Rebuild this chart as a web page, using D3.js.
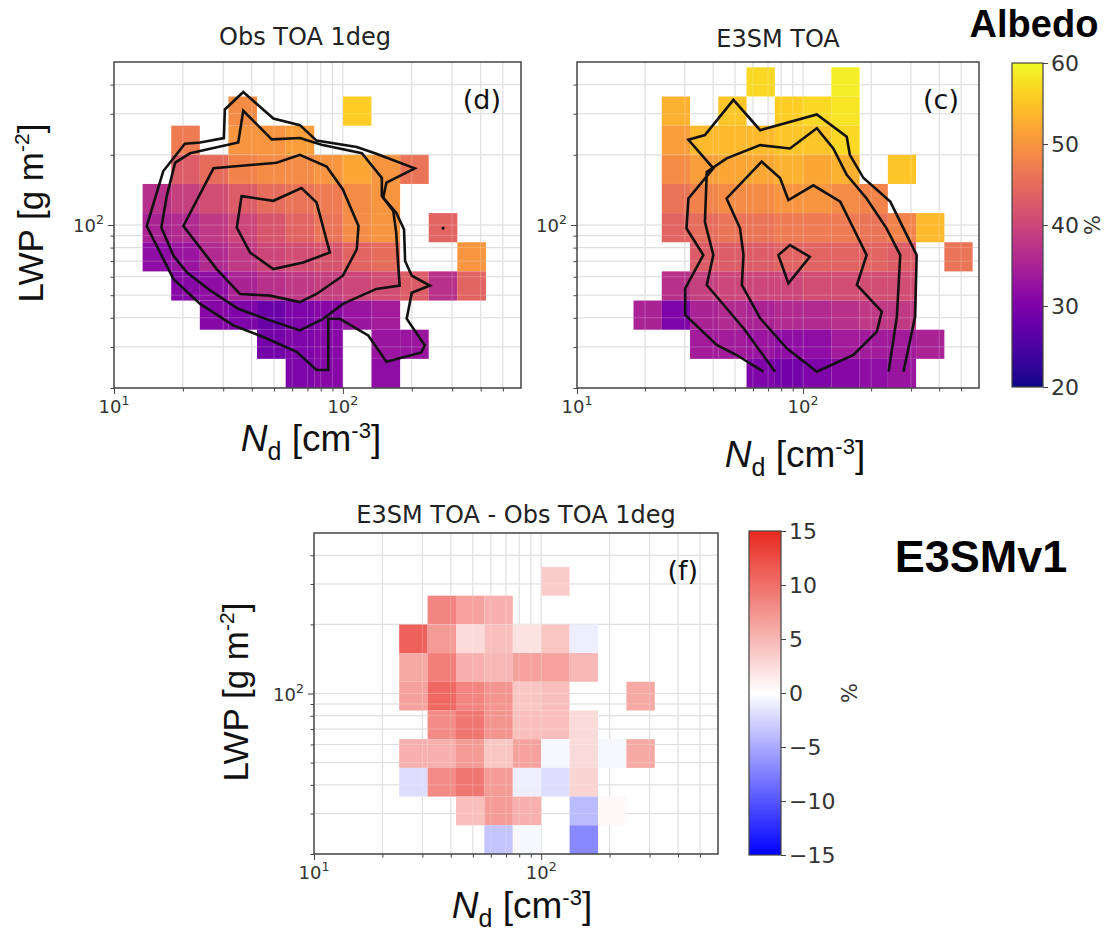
<!DOCTYPE html>
<html><head><meta charset="utf-8">
<script src="https://cdn.jsdelivr.net/npm/d3@7/dist/d3.min.js"></script>
<style>html,body{margin:0;padding:0;background:#fff;} svg{display:block;}</style>
</head><body>
<svg id="chart" width="1107" height="941"></svg>
<script>
const _ = null;
// log bins, 8 per decade
const ndEdges = d3.range(16).map(k => Math.pow(10, 1 + k / 8));
const lwpEdges = d3.range(13).map(k => 20 * Math.pow(10, k / 8));

const ndMajorTicks = [10, 100];
const ndMinorTicks = [20, 30, 40, 50, 60, 70, 80, 90, 200, 300, 400, 500];
const lwpMajorTicks = [100];
const lwpMinorTicks = [20, 30, 40, 50, 60, 70, 80, 90, 200, 300, 400];
const albedoTicks = [20, 30, 40, 50, 60];
const diffTicks = [-15, -10, -5, 0, 5, 10, 15];

// rows listed from top (highest LWP bin) to bottom; columns = Nd bins
const obsAlbedo = [
  [_,_,_,_,_,_,_,_,_,_,_,_,_,_,_],
  [_,_,_,_,_,_,_,_,_,_,_,_,_,_,_],
  [_,_,_,_,49,_,_,_,56,_,_,_,_,_,_],
  [_,_,47,_,50,50,51,_,_,_,_,_,_,_,_],
  [_,_,43,45,48,49,49,50,52,50,46,_,_,_,_],
  [_,37,39,41,43,45,46,47,49,50,_,_,_,_,_],
  [_,35,36,38,40,42,44,46,49,50,_,44,_,_,_],
  [_,32,33,36,38,40,41,42,44,45,_,_,50,_,_],
  [_,_,31,32,35,37,38,39,40,41,43,37,44,_,_],
  [_,_,_,31,30,28,30,31,33,34,_,_,_,_,_],
  [_,_,_,_,_,29,30,31,_,33,33,_,_,_,_],
  [_,_,_,_,_,_,30,31,_,32,_,_,_,_,_]
];
const e3smAlbedo = [
  [_,_,_,_,_,_,_,_,_,_,_,_,_,_,_],
  [_,_,_,_,_,_,57,_,_,59,_,_,_,_,_],
  [_,_,_,53,_,55,_,56,57,58,_,_,_,_,_],
  [_,_,_,51,54,54,54,55,55,57,_,_,_,_,_],
  [_,_,_,49,51,52,52,53,52,53,_,55,_,_,_],
  [_,_,_,46,48,49,49,50,50,49,48,_,_,_,_],
  [_,_,_,44,45,46,46,47,47,47,46,48,54,_,_],
  [_,_,_,_,43,43,43,44,44,44,44,43,_,46,_],
  [_,_,_,37,39,40,40,40,41,41,41,41,_,_,_],
  [_,_,35,30,35,36,35,36,36,37,38,38,_,_,_],
  [_,_,_,_,34,34,33,32,32,34,34,34,35,_,_],
  [_,_,_,_,_,_,30,29,30,31,32,33,_,_,_]
];
const diffAlbedo = [
  [_,_,_,_,_,_,_,_,_,_,_,_,_,_,_],
  [_,_,_,_,_,_,_,_,_,_,_,_,_,_,_],
  [_,_,_,_,_,_,_,_,3.5,_,_,_,_,_,_],
  [_,_,_,_,8.5,6.5,5.5,_,_,_,_,_,_,_,_],
  [_,_,_,11,7,2.5,4.5,2,4,-1,_,_,_,_,_],
  [_,_,_,6,9,5.5,5,6.5,6.5,5,_,_,_,_,_],
  [_,_,_,6.5,10.5,8.5,7.5,4,4.5,_,_,6,_,_,_],
  [_,_,_,_,8,9.5,7.5,4.5,4.5,2.5,_,_,_,_,_],
  [_,_,_,5.5,5.5,7,4,6.5,-0.5,2.5,-0.5,6,_,_,_],
  [_,_,_,-2,8,9.5,7,-1,-2,3,_,_,_,_,_],
  [_,_,_,_,_,4.5,7,5.5,_,-4,0.5,_,_,_,_],
  [_,_,_,_,_,_,-3.5,-0.5,_,-7,_,_,_,_,_]
];

// contour lines, points as [Nd, LWP]
const obsContour1 = [[36.7,372],[49.7,286],[64.9,268],[76.7,230],[115,216],[140,202],[206,175],[155,152],[150,131],[171,113],[185,95.7],[187,70.1],[200,60.6],[240,55],[200,51.2],[190,39.6],[228,30.5],[220,28.4],[155,25.9],[129,33.6],[97,39.6],[86.3,39.6],[86.3,23.9],[76.7,23.9],[62.8,28.6],[44.9,33.1],[33.2,37.1],[23.8,45.9],[18.2,58.6],[13.9,99],[16.4,170],[20.4,223],[23.8,226],[30.2,236],[30.5,313]];
const obsContour2 = [[36.7,309],[48.9,233],[64.9,236],[80.7,221],[121,203],[148,159],[148,133],[166,115],[171,92.7],[174,70.1],[177,55],[140,53.2],[100,45.9],[82,39.6],[64.9,35.3],[48,39],[34.9,43.7],[26.3,52.4],[20.8,62.7],[18.2,73.8],[16.1,97.5],[17,133],[18.5,185],[21.5,203],[34.9,226]];
const obsContour3 = [[20.1,99],[27.2,175],[51.3,185],[64.9,200],[84.9,178],[100,142],[117,99],[115,78.7],[100,60.6],[76.7,50.6],[64.9,46.7],[48,49.8],[35.5,50.6],[28.1,64.7]];
const obsContour4 = [[36.1,133],[49.7,127],[65.9,144],[76.7,125],[87.7,76.2],[67,69],[49.7,64.7],[39.3,76.2],[34.4,97.5]];
const obsDot = [[274,97]];

const e3smContour1 = [[66.7,23.5],[50.8,27.7],[41.5,30.6],[30.1,41.1],[30.1,53.5],[36.2,74.3],[30.5,96.8],[31.1,130],[40.1,175],[31.1,232],[36.8,243],[49.2,344],[64.6,255],[115,298],[156,239],[161,200],[185,159],[243,126],[318,74.3],[313,40.5],[278,23.5]];
const e3smContour2 = [[75.2,23.5],[54.5,36.1],[37.5,55.3],[40.1,74.3],[36.8,103],[37.5,169],[45.9,193],[64.6,220],[87.5,213],[115,260],[136,213],[156,164],[191,130],[234,96.8],[269,74.3],[260,40.5],[239,23.5]];
const e3smContour3 = [[65.6,187],[45.9,130],[52.6,96.8],[54.5,74.3],[53.6,55.3],[64.6,39.8],[84.7,29.6],[115,23.5],[167,27.7],[212,34.9],[223,42.5],[173,55.3],[191,74.3],[167,96.8],[146,126],[111,148],[86.1,128],[79.1,159]];
const e3smContour4 = [[77.8,74.3],[87.5,82],[107,73.1],[86.1,56.2]];

const svg = d3.select("#chart");
const defs = svg.append("defs");
const FONT = "DejaVu Sans, sans-serif";
const LFONT = "Liberation Sans, Arial, sans-serif";

const albedoColor = d3.scaleSequential(d3.interpolatePlasma).domain([20, 60]);
const bwr = v => v >= 0 ? d3.interpolateRgb("#ffffff", "#e8281e")(Math.min(v, 15) / 15)
                        : d3.interpolateRgb("#ffffff", "#0000ff")(Math.min(-v, 15) / 15);

function powerLabel(g, xPos, yPos, exp, anchor, size) {
  const t = g.append("text").attr("x", xPos).attr("y", yPos)
    .attr("text-anchor", anchor).attr("font-family", FONT).attr("font-size", size).attr("fill", "#333");
  t.append("tspan").text("10");
  t.append("tspan").attr("dy", -size * 0.42).attr("font-size", size * 0.7).text(exp);
}

function drawPanel(o) {
  const x = d3.scaleLog().domain([10, o.xmax]).range([o.left, o.right]);
  const y = d3.scaleLog().domain([20, 500]).range([o.bottom, o.top]);
  const g = svg.append("g");
  const clipId = "clip-" + o.id;
  defs.append("clipPath").attr("id", clipId).append("rect")
    .attr("x", o.left).attr("y", o.top).attr("width", o.right - o.left).attr("height", o.bottom - o.top);
  const inner = g.append("g").attr("clip-path", `url(#${clipId})`);
  const gx = ndMinorTicks.concat([100]).filter(d => d < o.xmax);
  const gy = lwpMinorTicks.concat([100]);
  function grid(layer, color, op) {
    layer.selectAll(null).data(gx).join("line")
      .attr("x1", d => x(d)).attr("x2", d => x(d)).attr("y1", o.top).attr("y2", o.bottom)
      .attr("stroke", color).attr("stroke-opacity", op).attr("stroke-width", 1);
    layer.selectAll(null).data(gy).join("line")
      .attr("y1", d => y(d)).attr("y2", d => y(d)).attr("x1", o.left).attr("x2", o.right)
      .attr("stroke", color).attr("stroke-opacity", op).attr("stroke-width", 1);
  }
  grid(inner.append("g"), "#d4d4d4", 1);
  const cells = [];
  o.rows.forEach((row, r) => {
    const j = o.rows.length - 1 - r;
    row.forEach((v, i) => { if (v !== null) cells.push({ i, j, v }); });
  });
  inner.append("g").selectAll("rect").data(cells).join("rect")
    .attr("x", d => x(ndEdges[d.i])).attr("width", d => x(ndEdges[d.i + 1]) - x(ndEdges[d.i]))
    .attr("y", d => y(lwpEdges[d.j + 1])).attr("height", d => y(lwpEdges[d.j]) - y(lwpEdges[d.j + 1]))
    .attr("fill", d => o.color(d.v));
  grid(inner.append("g"), "#ffffff", 0.22);
  (o.contours || []).forEach(c => {
    const line = d3.line().x(d => x(d[0])).y(d => y(d[1]))
      .curve(c.closed ? d3.curveLinearClosed : d3.curveLinear);
    inner.append("path").attr("d", line(c.pts)).attr("fill", "none")
      .attr("stroke", "#111").attr("stroke-width", 2.6).attr("stroke-linejoin", "miter");
  });
  (o.dots || []).forEach(p => {
    inner.append("circle").attr("cx", x(p[0])).attr("cy", y(p[1])).attr("r", 1.6).attr("fill", "#111");
  });
  // frame
  g.append("rect").attr("x", o.left).attr("y", o.top).attr("width", o.right - o.left)
    .attr("height", o.bottom - o.top).attr("fill", "none").attr("stroke", "#444").attr("stroke-width", 1.5);
  // ticks
  const tickStyle = s => s.call(a => a.select(".domain").remove())
    .call(a => a.selectAll("line").attr("stroke", "#444").attr("stroke-width", 1));
  g.append("g").attr("transform", `translate(0,${o.bottom})`)
    .call(d3.axisBottom(x).tickValues(ndMajorTicks).tickSize(6).tickFormat("")).call(tickStyle);
  g.append("g").attr("transform", `translate(0,${o.bottom})`)
    .call(d3.axisBottom(x).tickValues(ndMinorTicks.filter(d => d < o.xmax)).tickSize(3.5).tickFormat("")).call(tickStyle);
  g.append("g").attr("transform", `translate(${o.left},0)`)
    .call(d3.axisLeft(y).tickValues(lwpMajorTicks).tickSize(6).tickFormat("")).call(tickStyle);
  g.append("g").attr("transform", `translate(${o.left},0)`)
    .call(d3.axisLeft(y).tickValues(lwpMinorTicks).tickSize(3.5).tickFormat("")).call(tickStyle);
  ndMajorTicks.forEach(t => powerLabel(g, x(t), o.bottom + 25, String(Math.round(Math.log10(t))), "middle", 18));
  lwpMajorTicks.forEach(t => powerLabel(g, o.left - 10, y(t) + 7, String(Math.round(Math.log10(t))), "end", 18));
  // title
  g.append("text").attr("x", o.titleX).attr("y", o.titleY).attr("text-anchor", "middle")
    .attr("font-family", FONT).attr("font-size", 24).attr("fill", "#222").text(o.title);
  g.append("text").attr("x", o.right - 20).attr("y", o.top + 47).attr("text-anchor", "end")
    .attr("font-family", FONT).attr("font-size", 27).attr("fill", "#111").text(o.tag);
  // x label
  const xl = g.append("text").attr("x", o.xlabX).attr("y", o.xlabY).attr("text-anchor", "middle")
    .attr("font-family", LFONT).attr("font-size", 37).attr("fill", "#111");
  xl.append("tspan").attr("font-style", "italic").text("N");
  xl.append("tspan").attr("dy", 9).attr("font-size", 25).text("d");
  xl.append("tspan").attr("dy", -9).text(" [cm");
  xl.append("tspan").attr("dy", -13).attr("font-size", 22).text("-3");
  xl.append("tspan").attr("dy", 13).text("]");
  if (o.ylab) {
    const yl = g.append("text").attr("transform", `translate(${o.ylabX},${o.ylabY}) rotate(-90)`)
      .attr("text-anchor", "middle").attr("font-family", LFONT).attr("font-size", 35).attr("fill", "#111");
    yl.append("tspan").text("LWP [g m");
    yl.append("tspan").attr("dy", -14).attr("font-size", 21).text("-2");
    yl.append("tspan").attr("dy", 14).text("]");
  }
}

drawPanel({ id: "d", left: 114, right: 521, top: 62, bottom: 388, xmax: 600, rows: obsAlbedo, color: albedoColor,
  contours: [{closed: true, pts: obsContour1}, {closed: true, pts: obsContour2}, {closed: true, pts: obsContour3}, {closed: true, pts: obsContour4}],
  dots: obsDot, title: "Obs TOA 1deg", titleX: 305, titleY: 45, tag: "(d)",
  xlabX: 311, xlabY: 451, ylab: true, ylabX: 43, ylabY: 213 });

drawPanel({ id: "c", left: 577, right: 979, top: 62, bottom: 388, xmax: 600, rows: e3smAlbedo, color: albedoColor,
  contours: [{closed: false, pts: e3smContour1}, {closed: false, pts: e3smContour2}, {closed: true, pts: e3smContour3}, {closed: true, pts: e3smContour4}],
  title: "E3SM TOA", titleX: 778, titleY: 47, tag: "(c)",
  xlabX: 795, xlabY: 467, ylab: false });

drawPanel({ id: "f", left: 314, right: 718, top: 533, bottom: 854, xmax: 600, rows: diffAlbedo, color: bwr,
  title: "E3SM TOA - Obs TOA 1deg", titleX: 516, titleY: 523, tag: "(f)",
  xlabX: 522, xlabY: 918, ylab: true, ylabX: 248, ylabY: 692 });

// colorbars
function colorbar(o) {
  const gid = "grad-" + o.id;
  const grad = defs.append("linearGradient").attr("id", gid).attr("x1", 0).attr("y1", 1).attr("x2", 0).attr("y2", 0);
  d3.range(0, 1.0001, 0.02).forEach(t => {
    const v = o.domain[0] + t * (o.domain[1] - o.domain[0]);
    grad.append("stop").attr("offset", t).attr("stop-color", o.color(v));
  });
  const s = d3.scaleLinear().domain(o.domain).range([o.bottom, o.top]);
  const g = svg.append("g");
  g.append("rect").attr("x", o.left).attr("y", o.top).attr("width", o.width).attr("height", o.bottom - o.top)
    .attr("fill", `url(#${gid})`).attr("stroke", "#444").attr("stroke-width", 1.2);
  const ax = g.append("g").attr("transform", `translate(${o.left + o.width},0)`)
    .call(d3.axisRight(s).tickValues(o.ticks).tickSize(5).tickPadding(3).tickFormat(d => d < 0 ? "\u2212" + (-d) : String(d)));
  ax.select(".domain").remove();
  ax.selectAll("line").attr("stroke", "#444");
  ax.selectAll("text").attr("font-family", FONT).attr("font-size", 22).attr("fill", "#333");
  g.append("text").attr("transform", `translate(${o.pctX},${(o.top + o.bottom) / 2}) rotate(-90)`)
    .attr("text-anchor", "middle").attr("font-family", FONT).attr("font-size", 21).attr("fill", "#333").text("%");
}
colorbar({ id: "alb", left: 1012, width: 31, top: 63, bottom: 387, domain: [20, 60], ticks: albedoTicks, color: albedoColor, pctX: 1100 });
colorbar({ id: "dif", left: 749, width: 32, top: 531, bottom: 855, domain: [-15, 15], ticks: diffTicks, color: bwr, pctX: 857 });

svg.append("text").attr("x", 1034).attr("y", 37).attr("text-anchor", "middle")
  .attr("font-family", LFONT).attr("font-weight", "bold").attr("font-size", 38).attr("fill", "#000").text("Albedo");
svg.append("text").attr("x", 981).attr("y", 572).attr("text-anchor", "middle")
  .attr("font-family", LFONT).attr("font-weight", "bold").attr("font-size", 45).attr("fill", "#000").text("E3SMv1");
</script>
</body></html>
